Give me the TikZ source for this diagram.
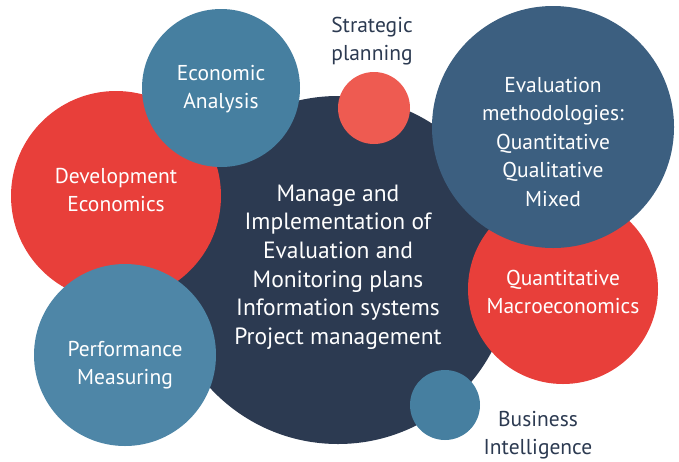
\documentclass[tikz,border=0pt]{standalone}
\usepackage{fontspec}
\setmainfont{PT Sans}
\usetikzlibrary{positioning}
\definecolor{navy}{HTML}{2C3A51}
\definecolor{brick}{HTML}{E83F3A}
\definecolor{coral}{HTML}{EE5B51}
\definecolor{teal}{HTML}{467FA0}
\definecolor{steel}{HTML}{3C5F80}
\definecolor{sky}{HTML}{4E86A7}

\begin{document}
\begin{tikzpicture}[x=1pt,y=-1pt,
    bubble/.style={circle,inner sep=0pt,minimum size=#1},
    txt/.style={text=white,align=center,font=\fontsize{21.5}{28.5}\selectfont},
    bigtxt/.style={txt,font=\fontsize{23.5}{28.6}\selectfont},
    dtxt/.style={txt,text=navy}]
  \useasboundingbox (0,0) rectangle (679,461);
  % circles, back to front
  \node[bubble=348,fill=navy] (core) at (338,270) {};
  \node[bubble=210,fill=brick] (dev) at (116,196) {};
  \node[bubble=158,fill=teal] (econ) at (221,88) {};
  \node[bubble=72,fill=coral] (strat) at (374,108) {};
  \node[bubble=190,fill=brick] (macro) at (563,289) {};
  \node[bubble=242,fill=steel] (eval) at (553,127) {};
  \node[bubble=182,fill=sky] (perf) at (125,355) {};
  \node[bubble=70,fill=teal] (bi) at (445,405) {};
  % labels
  \node[bigtxt] at ([yshift=3]core) {Manage and\\Implementation of\\Evaluation and\\Monitoring plans\\Information systems\\Project management};
  \node[txt] at ([yshift=6]dev) {Development\\Economics};
  \node[txt] at ([yshift=-1]econ) {Economic\\Analysis};
  \node[dtxt] at (372,41) {Strategic\\planning};
  \node[txt] at ([yshift=-3]macro) {Quantitative\\Macroeconomics};
  \node[txt] at ([yshift=-15]eval) {Evaluation\\methodologies:\\Quantitative\\Qualitative\\Mixed};
  \node[txt] at ([yshift=-10]perf) {Performance\\Measuring};
  \node[dtxt] at (538,435) {Business\\Intelligence};
\end{tikzpicture}
\end{document}
